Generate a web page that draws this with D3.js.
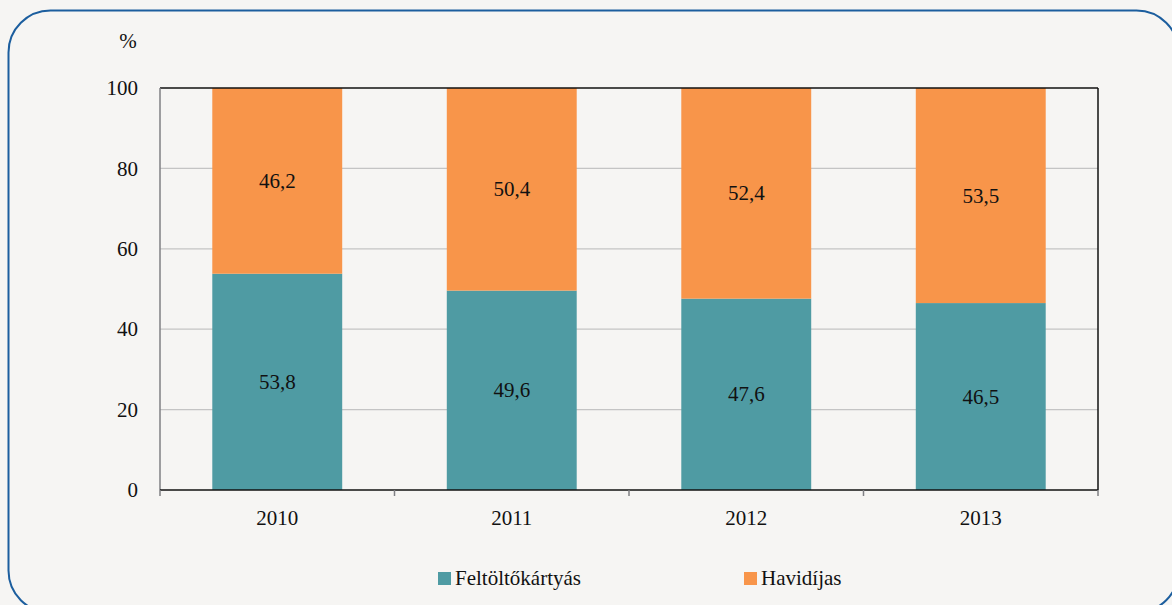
<!DOCTYPE html>
<html><head><meta charset="utf-8">
<script src="https://cdn.jsdelivr.net/npm/d3@7/dist/d3.min.js"></script>
</head>
<body style="margin:0;padding:0;background:#f6f5f3;"><svg id="c" width="1172" height="605" style="display:block"></svg>
<script>
const years = ["2010","2011","2012","2013"];
const prepaid = [53.8,49.6,47.6,46.5];
const postpaid = [46.2,50.4,52.4,53.5];
const seriesNames = ["Feltöltőkártyás","Havidíjas"];
const yTicks = [0,20,40,60,80,100];

const colors = ["#4f9ba3","#f8954a"];
const svg = d3.select("#c").attr("font-family","Liberation Serif");
function styleText(sel, size){ sel.attr("font-family","Liberation Serif").style("font-family",'"Liberation Serif"').style("font-size",size+"px").style("fill","#111"); return sel; }

svg.append("rect").attr("x",8.5).attr("y",10.5).attr("width",1170).attr("height",602)
  .attr("rx",42).attr("ry",42).attr("fill","#f6f5f3").attr("stroke","#1c5e9e").attr("stroke-width",2);

const L=160,R=1098,T=88,B=490;
const x = d3.scaleBand().domain(years).range([L,R]).paddingInner(0.446).paddingOuter(0.223);
const y = d3.scaleLinear().domain([0,100]).range([B,T]);

svg.append("g").selectAll("line").data(yTicks.filter(d=>d>0&&d<100)).join("line")
  .attr("x1",L).attr("x2",R).attr("y1",d=>y(d)).attr("y2",d=>y(d))
  .attr("stroke","#c4c4c4").attr("stroke-width",1.3);

const data = years.map((yr,i)=>({yr, vals:[prepaid[i],postpaid[i]]}));
const gBars = svg.append("g");
data.forEach(d=>{
  let base=0;
  d.vals.forEach((v,k)=>{
    gBars.append("rect").attr("x",x(d.yr)).attr("width",x.bandwidth())
      .attr("y",y(base+v)).attr("height",y(base)-y(base+v)).attr("fill",colors[k]);
    styleText(gBars.append("text").attr("x",x(d.yr)+x.bandwidth()/2).attr("y",(y(base)+y(base+v))/2+7)
      .attr("text-anchor","middle"),21).text(d3.format(".1f")(v).replace(".",","));
    base+=v;
  });
});

svg.append("line").attr("x1",L).attr("x2",R).attr("y1",T).attr("y2",T).attr("stroke","#111").attr("stroke-width",1.5);
svg.append("line").attr("x1",R).attr("x2",R).attr("y1",T).attr("y2",B).attr("stroke","#111").attr("stroke-width",1.5);
svg.append("line").attr("x1",L).attr("x2",L).attr("y1",T).attr("y2",B).attr("stroke","#7f7f83").attr("stroke-width",1.5);

const yAxis = d3.axisLeft(y).tickValues(yTicks).tickSize(0).tickPadding(22);
const gy = svg.append("g").attr("transform",`translate(${L},0)`).call(yAxis);
gy.select(".domain").remove();
gy.attr("font-family","Liberation Serif");
styleText(gy.selectAll("text"),21);

const xAxis = d3.axisBottom(x).tickSize(0).tickPadding(20);
const gx = svg.append("g").attr("transform",`translate(0,${B})`).call(xAxis);
gx.select(".domain").remove();
gx.attr("font-family","Liberation Serif");
styleText(gx.selectAll("text"),21);
svg.append("line").attr("x1",L).attr("x2",R).attr("y1",B).attr("y2",B).attr("stroke","#111").attr("stroke-width",1.5);
const bounds = d3.range(years.length+1).map(i=>L+i*(R-L)/years.length);
svg.append("g").selectAll("line").data(bounds).join("line")
  .attr("x1",d=>d).attr("x2",d=>d).attr("y1",B).attr("y2",B+6).attr("stroke","#7f7f83").attr("stroke-width",1.5);

styleText(svg.append("text").attr("x",128).attr("y",48).attr("text-anchor","middle"),21).text("%");

const legX=[438,744];
seriesNames.forEach((n,k)=>{
  svg.append("rect").attr("x",legX[k]).attr("y",572).attr("width",13).attr("height",13).attr("fill",colors[k]);
  styleText(svg.append("text").attr("x",legX[k]+17).attr("y",585),21).text(n);
});
</script></body></html>
